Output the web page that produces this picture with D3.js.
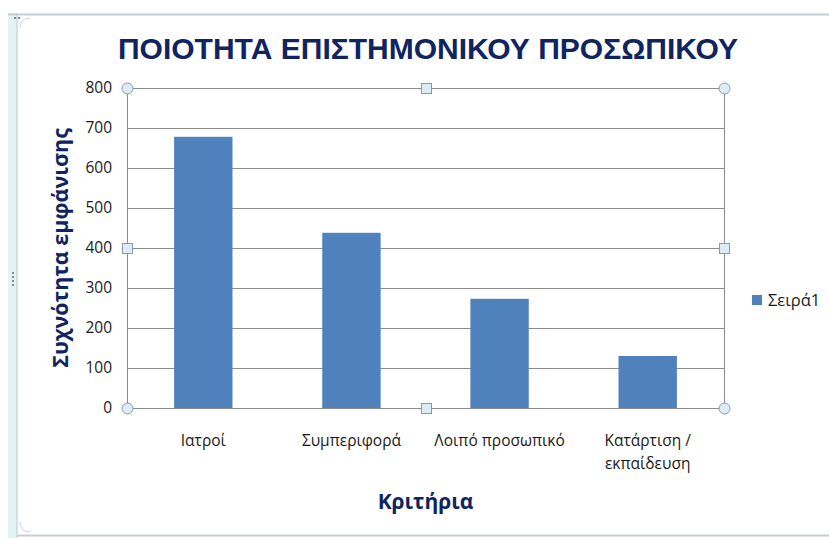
<!DOCTYPE html>
<html>
<head>
<meta charset="utf-8">
<script src="https://cdn.jsdelivr.net/npm/d3@7"></script>
<style>
  html, body { margin: 0; padding: 0; background: #fff; }
  svg { display: block; }
</style>
</head>
<body>
<svg id="chart" width="829" height="538"></svg>
<script>
// Chart data
const categories = ["Ιατροί", "Συμπεριφορά", "Λοιπό προσωπικό", "Κατάρτιση / εκπαίδευση"];
const categoryLines = [["Ιατροί"], ["Συμπεριφορά"], ["Λοιπό προσωπικό"], ["Κατάρτιση /", "εκπαίδευση"]];
const values = [678, 438, 273, 130];
const yTicks = [0, 100, 200, 300, 400, 500, 600, 700, 800];
const seriesName = "Σειρά1";
const chartTitle = "ΠΟΙΟΤΗΤΑ ΕΠΙΣΤΗΜΟΝΙΚΟΥ ΠΡΟΣΩΠΙΚΟΥ";
const yTitle = "Συχνότητα εμφάνισης";
const xTitle = "Κριτήρια";

const svg = d3.select("#chart");
const W = 829, H = 538;
const plot = { left: 127, right: 724, top: 88, bottom: 408 };

const navy = "#0f2461";
const barColor = "#4f81bd";
const labelFont = "'Open Sans', 'Noto Sans', sans-serif";

// Frame around the chart object
svg.append("rect").attr("x", 8).attr("y", 13).attr("width", 9).attr("height", H - 13)
  .attr("fill", "#e3f3f3");
svg.append("line").attr("x1", 17).attr("x2", 17).attr("y1", 13).attr("y2", H)
  .attr("stroke", "#b9c7cc").attr("stroke-width", 1);
svg.append("line").attr("x1", 8).attr("x2", W).attr("y1", 14.5).attr("y2", 14.5)
  .attr("stroke", "#c3cfd3").attr("stroke-width", 2);
svg.append("line").attr("x1", 17).attr("x2", W).attr("y1", 535.5).attr("y2", 535.5)
  .attr("stroke", "#c3cfd3").attr("stroke-width", 2);
svg.append("path").attr("d", "M20,28 Q20,18 30,18")
  .attr("fill", "none").attr("stroke", "#ccd6d9").attr("stroke-width", 1);
svg.append("path").attr("d", "M20,522 Q20,532 30,532")
  .attr("fill", "none").attr("stroke", "#ccd6d9").attr("stroke-width", 1);
// grip dots on the left edge
[272, 276, 280, 284].forEach(y => {
  svg.append("rect").attr("x", 12).attr("y", y).attr("width", 2).attr("height", 2).attr("fill", "#808a8c");
});
[[14, 17], [18, 17]].forEach(([x, y]) => {
  svg.append("rect").attr("x", x).attr("y", y).attr("width", 2).attr("height", 2).attr("fill", "#808a8c");
});

// Scales
const x = d3.scaleBand().domain(categories).range([plot.left, plot.right])
  .paddingInner(0.606).paddingOuter(0.318);
const y = d3.scaleLinear().domain([0, 800]).range([plot.bottom, plot.top]);

// Gridlines
svg.append("g")
  .selectAll("line").data(yTicks).join("line")
  .attr("x1", plot.left).attr("x2", plot.right)
  .attr("y1", d => Math.round(y(d)) + 0.5).attr("y2", d => Math.round(y(d)) + 0.5)
  .attr("stroke", "#8c8c8c").attr("stroke-width", 1);

// Plot area border (vertical sides)
svg.append("line").attr("x1", plot.left + 0.5).attr("x2", plot.left + 0.5)
  .attr("y1", plot.top).attr("y2", plot.bottom).attr("stroke", "#8c8c8c");
svg.append("line").attr("x1", plot.right + 0.5).attr("x2", plot.right + 0.5)
  .attr("y1", plot.top).attr("y2", plot.bottom).attr("stroke", "#8c8c8c");

// Bars
svg.append("g").selectAll("rect").data(values).join("rect")
  .attr("x", (d, i) => x(categories[i]))
  .attr("width", x.bandwidth())
  .attr("y", d => y(d))
  .attr("height", d => y(0) - y(d))
  .attr("fill", barColor);

// Y axis labels
const yAxis = d3.axisLeft(y).tickValues(yTicks).tickSize(0).tickPadding(15);
const yg = svg.append("g").attr("transform", `translate(${plot.left},0)`).call(yAxis);
yg.select(".domain").remove();
yg.selectAll("text").attr("font-family", labelFont).attr("font-size", 15.5)
  .attr("fill", "#1a1a1a");

// X axis category labels (wrapped)
const xg = svg.append("g");
categories.forEach((c, i) => {
  const cx = x(c) + x.bandwidth() / 2;
  const t = xg.append("text")
    .attr("x", cx)
    .attr("y", 446)
    .attr("text-anchor", "middle")
    .attr("font-family", labelFont).attr("font-size", 15.5)
    .attr("fill", "#1a1a1a");
  categoryLines[i].forEach((line, j) => {
    t.append("tspan").attr("x", cx).attr("dy", j === 0 ? 0 : 23).text(line);
  });
});

// Selection handles on the plot area
const handleFill = "#dcecf5", handleStroke = "#8a9aa4";
const corners = [[plot.left, plot.top], [plot.right, plot.top], [plot.left, plot.bottom], [plot.right, plot.bottom]];
svg.append("g").selectAll("circle").data(corners).join("circle")
  .attr("cx", d => d[0] + 0.5).attr("cy", d => d[1] + 0.5).attr("r", 5.5)
  .attr("fill", handleFill).attr("stroke", handleStroke);
const midX = (plot.left + plot.right) / 2, midY = (plot.top + plot.bottom) / 2;
const mids = [[midX, plot.top], [midX, plot.bottom], [plot.left, midY], [plot.right, midY]];
svg.append("g").selectAll("rect").data(mids).join("rect")
  .attr("x", d => Math.round(d[0]) - 4.5).attr("y", d => Math.round(d[1]) - 4.5)
  .attr("width", 10).attr("height", 10)
  .attr("fill", handleFill).attr("stroke", handleStroke);

// Title
svg.append("text").attr("x", 428).attr("y", 59).attr("text-anchor", "middle")
  .attr("font-family", "'Liberation Sans', Arial, sans-serif").attr("font-weight", "bold")
  .attr("font-size", 30).attr("fill", navy).text(chartTitle);

// Y axis title
svg.append("text")
  .attr("transform", `translate(68,${midY}) rotate(-90)`)
  .attr("text-anchor", "middle")
  .attr("font-family", labelFont).attr("font-weight", "bold")
  .attr("font-size", 21.5).attr("fill", navy).text(yTitle);

// X axis title
svg.append("text").attr("x", midX).attr("y", 509).attr("text-anchor", "middle")
  .attr("font-family", labelFont).attr("font-weight", "bold")
  .attr("font-size", 21).attr("fill", navy).text(xTitle);

// Legend
svg.append("rect").attr("x", 752).attr("y", 295).attr("width", 10).attr("height", 10).attr("fill", barColor);
svg.append("text").attr("x", 768).attr("y", 305.5)
  .attr("font-family", labelFont).attr("font-size", 16.5).attr("fill", "#1a1a1a").text(seriesName);
</script>
</body>
</html>
